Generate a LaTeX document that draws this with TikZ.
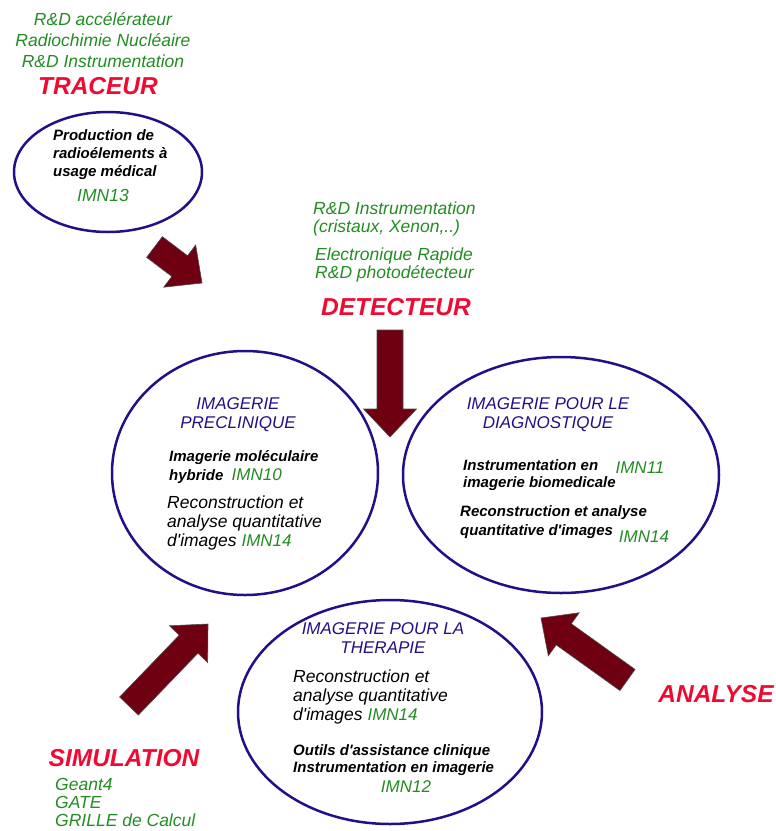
\documentclass[tikz,border=0pt]{standalone}
\usepackage{fontspec}
\setmainfont{Liberation Sans}
\usetikzlibrary{shapes.geometric,positioning,calc}

\definecolor{zoneblue}{RGB}{35,15,135}
\definecolor{labelgreen}{RGB}{35,140,35}
\definecolor{titlered}{RGB}{240,10,50}
\definecolor{arrowred}{RGB}{110,0,18}

\newcommand{\imn}[1]{{\color{labelgreen}\mdseries\fontsize{17}{19}\selectfont #1}}
\newcommand{\apos}{\textquotesingle}
\newcommand{\fatarrow}[2]{%
    \coordinate (ah) at ($(#2)!28pt!(#1)$);
    \filldraw[arrowbody] ($(#1)!13pt!90:(#2)$) -- ($(ah)!13pt!90:(#2)$)
        -- ($(ah)!26.5pt!90:(#2)$) -- (#2) -- ($(ah)!26.5pt!-90:(#2)$)
        -- ($(ah)!13pt!-90:(#2)$) -- ($(#1)!13pt!-90:(#2)$) -- cycle;}

\begin{document}
\begin{tikzpicture}[x=1pt, y=-1pt,
    zone/.style={ellipse, draw=zoneblue, line width=2.5pt, inner sep=0pt},
    greentxt/.style={text=labelgreen, font=\itshape\fontsize{17.5}{18}\selectfont, inner sep=0pt},
    redtitle/.style={text=titlered, font=\bfseries\itshape\fontsize{24.5}{26}\selectfont, inner sep=0pt},
    bluetitle/.style={text=zoneblue, align=center, font=\itshape\fontsize{17}{19}\selectfont, inner sep=0pt},
    boldtxt/.style={align=left, anchor=west, font=\bfseries\itshape\fontsize{15}{18}\selectfont, inner sep=0pt},
    plaintxt/.style={align=left, anchor=west, font=\itshape\fontsize{17.5}{19}\selectfont, inner sep=0pt},
    arrowbody/.style={fill=arrowred, draw=black!70, line width=0.6pt, line join=miter}]
            \useasboundingbox (0,0) rectangle (776,831);
            % the four zones
            \node[zone, minimum width=188pt, minimum height=120pt] (trac) at (108,172) {};
            \node[zone, minimum width=266pt, minimum height=244pt] (precl) at (245,473) {};
            \node[zone, minimum width=316pt, minimum height=236pt] (diag) at (561,475) {};
            \node[zone, minimum width=304pt, minimum height=224pt] (ther) at (390,712) {};
            % traceur
            \node[greentxt, align=center, font=\itshape\fontsize{17.5}{21}\selectfont] (tracrd) at (103,40)
                {R\&D accélérateur\\Radiochimie Nucléaire\\R\&D Instrumentation};
            \node[redtitle] (tractitle) at (98,86) {TRACEUR};
            \node[boldtxt] (tracprod) at (53,155) {Production de\\radioélements à\\usage médical};
            \node[greentxt] (imn13) at (103,195) {IMN13};
            % detecteur
            \node[greentxt, align=left, anchor=west] (detrd) at (313,219) {R\&D Instrumentation\\(cristaux, Xenon,..)};
            \node[greentxt, align=left, anchor=west] (detelec) at (315,265) {Electronique Rapide\\R\&D photodétecteur};
            \node[redtitle] (dettitle) at (396,307) {DETECTEUR};
            % imagerie preclinique
            \node[bluetitle] (precltitle) at (238,415) {IMAGERIE\\PRECLINIQUE};
            \node[boldtxt, font=\bfseries\itshape\fontsize{15}{19}\selectfont] (preclhyb) at (169,467.5)
                {Imagerie moléculaire\\hybride \ \imn{IMN10}};
            \node[plaintxt] (preclrec) at (167,523) {Reconstruction et\\analyse quantitative\\d\apos images \imn{IMN14}};
            % imagerie pour le diagnostique
            \node[bluetitle] (diagtitle) at (548,415) {IMAGERIE POUR LE\\DIAGNOSTIQUE};
            \node[boldtxt, font=\bfseries\itshape\fontsize{15}{17}\selectfont] (diaginst) at (463,475.5)
                {Instrumentation en\\imagerie biomedicale};
            \node[greentxt, font=\itshape\fontsize{17}{19}\selectfont] (imn11) at (640,468) {IMN11};
            \node[boldtxt, font=\bfseries\itshape\fontsize{15}{19}\selectfont] (diagrec) at (460,522.5)
                {Reconstruction et analyse\\quantitative d\apos images};
            \node[greentxt, font=\itshape\fontsize{17}{19}\selectfont] (diagimn14) at (644,537) {IMN14};
            % imagerie pour la therapie
            \node[bluetitle] (thertitle) at (383,638.5) {IMAGERIE POUR LA\\THERAPIE};
            \node[plaintxt] (therrec) at (293,697) {Reconstruction et\\analyse quantitative\\d\apos images \imn{IMN14}};
            \node[boldtxt, font=\bfseries\itshape\fontsize{15}{17}\selectfont] (thertool) at (293,760.5)
                {Outils d\apos assistance clinique\\Instrumentation en imagerie};
            \node[greentxt, font=\itshape\fontsize{17}{19}\selectfont] (imn12) at (406,787) {IMN12};
            % simulation and analyse
            \node[redtitle] (simtitle) at (124,758) {SIMULATION};
            \node[greentxt, align=left, anchor=west] (simtools) at (55,802) {Geant4\\GATE\\GRILLE de Calcul};
            \node[redtitle] (anatitle) at (716,694) {ANALYSE};
            % arrows
            \coordinate (T1) at (154.5,247);
            \coordinate (P1) at (202,283);
            \coordinate (T2) at (390,330);
            \coordinate (P2) at (390,437);
            \coordinate (T3) at (129,706);
            \coordinate (P3) at (208,624);
            \coordinate (T4) at (627.5,680);
            \coordinate (P4) at (541,618);
            \fatarrow{T1}{P1}
            \fatarrow{T2}{P2}
            \fatarrow{T3}{P3}
            \fatarrow{T4}{P4}
        \end{tikzpicture}
\end{document}
